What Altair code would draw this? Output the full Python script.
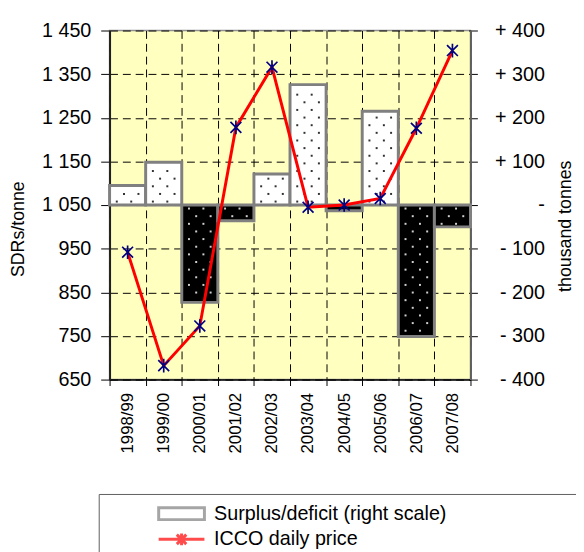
import altair as alt
import pandas as pd

seasons = ["1998/99", "1999/00", "2000/01", "2001/02", "2002/03",
           "2003/04", "2004/05", "2005/06", "2006/07", "2007/08"]
surplus = [45, 98, -223, -36, 71, 276, -13, 215, -301, -50]      # thousand tonnes (right scale)
price = [942, 682, 773, 1228, 1366, 1045, 1050, 1065, 1226, 1404]  # SDRs/tonne (left scale)
legend_items = ["Surplus/deficit (right scale)", "ICCO daily price"]
left_ticks = [650, 750, 850, 950, 1050, 1150, 1250, 1350, 1450]
right_ticks = [-400, -300, -200, -100, 0, 100, 200, 300, 400]

FONT = "Liberation Sans"
NBSP = "\u00a0"
BLANK = "\u2800"

df = pd.DataFrame({"season": seasons, "v": surplus, "p": price})

# dotted texture inside the bars, derived from each bar's value
dot_rows = []
for s, v in zip(seasons, surplus):
    k = 0
    while 8 + 17.5 * k <= abs(v) - 6:
        yy = (8 + 17.5 * k) * (1 if v > 0 else -1)
        offs = [0.2, 0.6] if k % 2 == 0 else [0.4, 0.8]
        for o in offs:
            dot_rows.append({"season": s, "off": o, "y": yy, "neg": bool(v < 0)})
        k += 1
dots_df = pd.DataFrame(dot_rows)

# legend labels padded with blanks so the framed box runs off the page like the original
leg_labels = [t + NBSP * 21 + BLANK for t in legend_items]
leg_df = pd.DataFrame({"item": leg_labels, "season": [seasons[0]] * 2, "p": [price[0]] * 2})

x_enc = alt.X("season:N", sort=seasons,
              scale=alt.Scale(paddingInner=0, paddingOuter=0),
              axis=alt.Axis(title=None, labelAngle=270, labelFontSize=17, labelPadding=7,
                            tickBand="extent", grid=True, gridColor="black", gridDash=[8, 5],
                            gridWidth=1, domainColor="black", domainWidth=1.5,
                            tickColor="black", tickSize=6))

right_scale = alt.Scale(domain=[-400, 400], nice=False)
left_scale = alt.Scale(domain=[650, 1450], nice=False)

right_axis = alt.Axis(orient="right", values=right_ticks, grid=False,
                      labelExpr=("datum.value > 0 ? '+ ' + datum.value : (datum.value < 0 ? '- ' + abs(datum.value) : '-"
                                 + NBSP * 8 + "')"),
                      labelAlign="right", labelFontSize=20, labelPadding=68, tickSize=7,
                      tickColor="black", domainColor="#606060", domainWidth=2,
                      title="thousand tonnes", titleFontSize=18, titleFontWeight="normal",
                      titleAngle=270, titleX=96, titleY=198, titleBaseline="middle", titleAlign="center")

left_axis = alt.Axis(orient="left", values=left_ticks, grid=True, gridColor="black",
                     gridDash=[8, 5], gridWidth=1,
                     labelExpr="datum.value >= 1000 ? '1 ' + format(datum.value - 1000, '03d') : format(datum.value, 'd')",
                     labelFontSize=20, labelPadding=10, tickSize=9, tickColor="black",
                     domainColor="#202020", domainWidth=2,
                     title="SDRs/tonne", titleFontSize=18, titleFontWeight="normal",
                     titleAngle=270, titleX=-92, titleY=201, titleBaseline="middle", titleAlign="center")

bars = alt.Chart(df).mark_bar(stroke="#808080", strokeWidth=3).encode(
    x=x_enc,
    y=alt.Y("v:Q", scale=right_scale, axis=right_axis),
    y2=alt.datum(0),
    fill=alt.condition("datum.v >= 0", alt.value("white"), alt.value("black")),
)

dot_layers = []
for o in [0.2, 0.4, 0.6, 0.8]:
    dot_layers.append(
        alt.Chart(dots_df[dots_df["off"] == o]).mark_square(size=4, opacity=1).encode(
            x=alt.X("season:N", sort=seasons, bandPosition=o),
            y=alt.Y("y:Q", scale=right_scale),
            color=alt.condition("datum.neg", alt.value("#d0d0d0"), alt.value("#303030")),
        )
    )

ast_path = "M-0.8,-0.8L0.8,0.8M-0.8,0.8L0.8,-0.8M0,-1L0,1"
line = alt.Chart(df).mark_line(color="#FF0000", strokeWidth=3).encode(
    x=alt.X("season:N", sort=seasons),
    y=alt.Y("p:Q", scale=left_scale, axis=left_axis),
)
pts = alt.Chart(df).mark_point(shape=ast_path, filled=False, color="#000080",
                               size=190, strokeWidth=1.7, opacity=1).encode(
    x=alt.X("season:N", sort=seasons),
    y=alt.Y("p:Q"),
)

rect_path = "M-2.9,-0.75H2.9V0.75H-2.9Z"
line_path = "M-2.9,0H2.9M-0.6,-0.6L0.6,0.6M-0.6,0.6L0.6,-0.6M0,-0.75V0.75"
leg_props = dict(orient="none", legendX=-11, legendY=470, direction="vertical", title=None,
                 labelFont=FONT, labelFontSize=20, labelColor="black", labelLimit=2000,
                 symbolSize=256, symbolStrokeWidth=3, symbolFillColor="white",
                 symbolOffset=64, labelOffset=23, padding=10, rowPadding=2,
                 strokeColor="#606060", fillColor="white")
legend_layer = alt.Chart(leg_df).mark_point(size=0, filled=False).encode(
    x=alt.X("season:N", sort=seasons),
    y=alt.Y("p:Q"),
    shape=alt.Shape("item:N", scale=alt.Scale(domain=leg_labels, range=[rect_path, line_path]),
                    legend=alt.Legend(**leg_props)),
    stroke=alt.Stroke("item:N", scale=alt.Scale(domain=leg_labels, range=["#808080", "#FF0000"]),
                      legend=alt.Legend(**leg_props)),
)

chart = alt.layer(
    alt.layer(bars, *dot_layers),
    alt.layer(line, pts, legend_layer),
).resolve_scale(y="independent").properties(
    width=366, height=354,
    autosize=alt.AutoSizeParams(type="none"),
    padding={"left": 103, "top": 19, "right": 107, "bottom": 171},
).configure_view(
    fill="#FFFFC0", stroke="#909090", strokeWidth=1.5
).configure_axis(
    labelFont=FONT, titleFont=FONT, labelColor="black", titleColor="black"
).configure_legend(
    labelFont=FONT
)

chart.save("out.html", embed_options={"renderer": "svg", "actions": False})
